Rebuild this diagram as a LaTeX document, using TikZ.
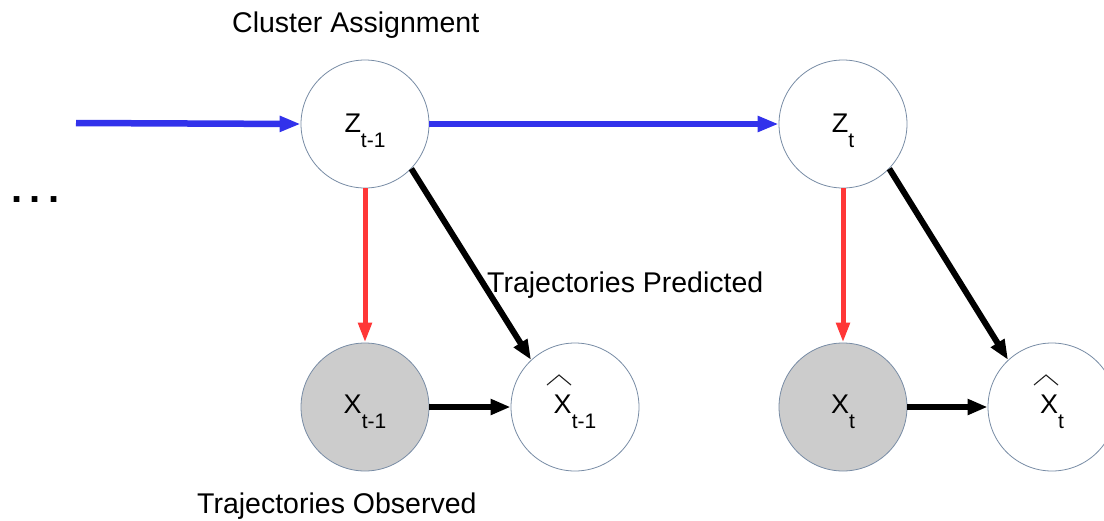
\documentclass[tikz,border=0pt]{standalone}
\usepackage{fontspec}
\setmainfont{Liberation Sans}
\usetikzlibrary{arrows.meta}
\definecolor{myblue}{RGB}{50,50,235}
\definecolor{myred}{RGB}{255,55,55}
\definecolor{ringcol}{RGB}{120,140,165}
\definecolor{obsfill}{RGB}{204,204,204}
\newcommand{\lbl}[2]{\fontsize{27}{27}\selectfont #1\raisebox{-15pt}{\fontsize{21}{21}\selectfont #2}}
\begin{document}
\begin{tikzpicture}[x=1pt,y=-1pt,
  var/.style={circle, draw=ringcol, line width=0.8pt, fill=white, minimum size=128pt, inner sep=0pt, text height=16pt, text depth=0pt},
  obs/.style={var, fill=obsfill, text height=12pt},
  pred/.style={var, text height=12pt},
  blu/.style={draw=myblue, line width=6.5pt, -{Triangle[length=21pt,width=15pt]}},
  rd/.style={draw=myred, line width=5pt, -{Triangle[length=20pt,width=13pt]}},
  blk/.style={draw=black, line width=6pt, -{Triangle[length=20pt,width=15pt]}},
  hat/.style={draw=black!85, line width=1.1pt},
  caption/.style={anchor=base west, inner sep=0pt, font=\fontsize{28.5}{28.5}\selectfont}]
\useasboundingbox (0,0) rectangle (1104,520);
\clip (0,0) rectangle (1104,520);

\node[var]  (z1)  at (365,124)  {\lbl{Z}{t-1}};
\node[var]  (z2)  at (843,124)  {\lbl{Z}{t}};
\node[obs]  (x1)  at (365,407)  {\lbl{X}{t-1}};
\node[obs]  (x2)  at (843,407)  {\lbl{X}{t}};
\node[pred] (xh1) at (575,407)  {\lbl{X}{t-1}};
\node[pred] (xh2) at (1052,407) {\lbl{X}{t}};

\draw[hat] ([shift={(-28,-22)}]xh1.center) -- ++(12,-10) -- ++(12,10);
\draw[hat] ([shift={(-18,-22)}]xh2.center) -- ++(12,-10) -- ++(12,10);

\coordinate (start) at (76,123);
\draw[blu] (start) -- (z1.west);
\draw[blu] (z1.east) -- (z2.west);

\draw[rd] (z1.south) -- (x1.north);
\draw[rd] (z2.south) -- (x2.north);

\draw[blk] (z1.-44) -- (xh1.133);
\draw[blk] (z2.-44) -- (xh2.133);
\draw[blk] (x1.east) -- (xh1.west);
\draw[blk] (x2.east) -- (xh2.west);

\node[caption] (ca) at (232,32) {Cluster Assignment};
\node[caption] (tp) at (487,292) {Trajectories Predicted};
\node[caption] (to) at (197,513) {Trajectories Observed};
\node[anchor=base west, inner sep=0pt, font=\fontsize{40}{40}\selectfont\bfseries] (dots) at (11,202) {.\kern7.5pt.\kern7.5pt.};
\end{tikzpicture}
\end{document}
